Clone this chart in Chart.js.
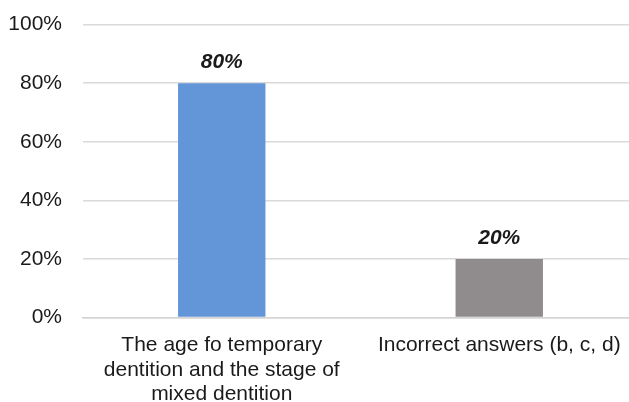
<!DOCTYPE html>
<html>
<head>
<meta charset="utf-8">
<script src="https://cdn.jsdelivr.net/npm/chart.js@4"></script>
<style>
  html, body { margin: 0; padding: 0; background: #ffffff; overflow: hidden; }
  #wrap { width: 640px; height: 431px; margin-top: -9px; }
</style>
</head>
<body>
<div id="wrap"><canvas id="chart" width="640" height="431"></canvas></div>
<script>
// Answer categories (multi-line labels) and the share of respondents for each
const categories = [
  ["The age fo temporary", "dentition and the stage of", "mixed dentition"],
  ["Incorrect answers (b, c, d)"]
];
const shares = [80, 20];
const barColors = ["#6396d8", "#908c8e"];
const yTicks = [0, 20, 40, 60, 80, 100];

const FONT = "'Liberation Sans', Arial, sans-serif";

// Draws the value above each bar in bold italic
const valueLabels = {
  id: "valueLabels",
  afterDatasetsDraw(chart) {
    const ctx = chart.ctx;
    const meta = chart.getDatasetMeta(0);
    ctx.save();
    ctx.font = "italic bold 21px " + FONT;
    ctx.fillStyle = "#1a1a1a";
    ctx.textAlign = "center";
    ctx.textBaseline = "alphabetic";
    meta.data.forEach((bar, i) => {
      ctx.fillText(shares[i] + "%", bar.x, bar.y - 15);
    });
    ctx.restore();
  }
};

new Chart(document.getElementById("chart"), {
  type: "bar",
  data: {
    labels: categories,
    datasets: [{
      data: shares,
      backgroundColor: barColors,
      borderWidth: 0,
      barPercentage: 0.9,
      categoryPercentage: 0.35
    }]
  },
  options: {
    responsive: false,
    animation: false,
    layout: { padding: { top: 0, right: 2, bottom: 0, left: 0 } },
    plugins: {
      legend: { display: false },
      tooltip: { enabled: false }
    },
    scales: {
      x: {
        grid: { display: false, drawTicks: false },
        border: { display: true, color: "#d4d4d4", width: 1.5 },
        ticks: {
          color: "#1a1a1a",
          font: { family: FONT, size: 21, lineHeight: 1.15 },
          padding: 16,
          maxRotation: 0,
          autoSkip: false
        }
      },
      y: {
        min: 0,
        max: 100,
        afterBuildTicks(axis) {
          axis.ticks = yTicks.map(v => ({ value: v }));
        },
        afterFit(axis) { axis.width = 83; },
        grid: { color: "#d9d9d9", lineWidth: 1.5, drawTicks: false },
        border: { display: false },
        ticks: {
          color: "#1a1a1a",
          font: { family: FONT, size: 21 },
          padding: 21,
          callback: v => v + "%"
        }
      }
    }
  },
  plugins: [valueLabels]
});
</script>
</body>
</html>
